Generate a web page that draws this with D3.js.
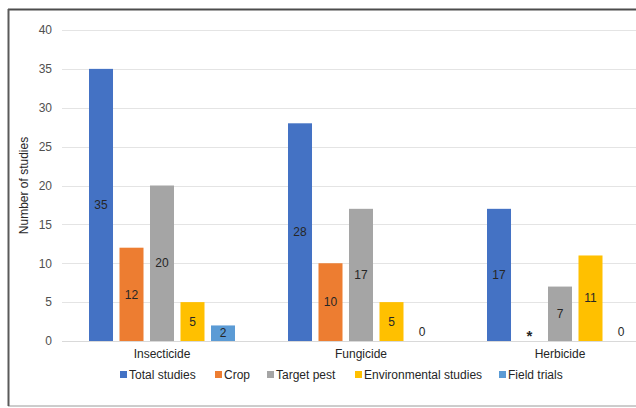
<!DOCTYPE html>
<html>
<head>
<meta charset="utf-8">
<script src="https://cdn.jsdelivr.net/npm/d3@7"></script>
<style>
  html, body { margin: 0; padding: 0; background: #fff; }
  svg { display: block; font-family: "Liberation Sans", Arial, sans-serif; }
</style>
</head>
<body>
<svg id="chart" width="636" height="408"></svg>
<script>
// Pesticide classes on the x axis
const categories = ["Insecticide", "Fungicide", "Herbicide"];
// Series shown for every class
const seriesNames = ["Total studies", "Crop", "Target pest", "Environmental studies", "Field trials"];
const seriesColors = ["#4472C4", "#ED7D31", "#A5A5A5", "#FFC000", "#5B9BD5"];
// Study counts per series, in category order
const totalStudies = [35, 28, 17];
const crop = [12, 10, 0];
const targetPest = [20, 17, 7];
const environmentalStudies = [5, 5, 11];
const fieldTrials = [2, 0, 0];
// Printed labels per series (the herbicide crop count is marked with an asterisk)
const cropLabels = ["12", "10", "*"];
const yTicks = [0, 5, 10, 15, 20, 25, 30, 35, 40];

const values = [totalStudies, crop, targetPest, environmentalStudies, fieldTrials];
const labels = [
  totalStudies.map(String),
  cropLabels,
  targetPest.map(String),
  environmentalStudies.map(String),
  fieldTrials.map(String)
];

const svg = d3.select("#chart");

// Frame
svg.append("rect")
  .attr("x", 8.5).attr("y", 9.5).attr("width", 640).attr("height", 396.5)
  .attr("fill", "none").attr("stroke", "#9a9a9a").attr("stroke-width", 1);
svg.append("line").attr("x1", 8).attr("x2", 640).attr("y1", 9.5).attr("y2", 9.5)
  .attr("stroke", "#4d4d4d").attr("stroke-width", 2);
svg.append("line").attr("x1", 8.5).attr("x2", 8.5).attr("y1", 9).attr("y2", 406)
  .attr("stroke", "#5a5a5a").attr("stroke-width", 2);

const y = d3.scaleLinear().domain([0, 40]).range([341, 30]);
const x0 = d3.scaleBand().domain(categories).range([62.5, 659.5]).padding(0);
const x1 = d3.scaleBand().domain(seriesNames).range([0, x0.bandwidth()])
  .paddingInner(0.213).paddingOuter(0.869);

// Gridlines
svg.append("g").selectAll("line").data(yTicks).join("line")
  .attr("x1", 62).attr("x2", 640)
  .attr("y1", d => Math.round(y(d)) + 0.5).attr("y2", d => Math.round(y(d)) + 0.5)
  .attr("stroke", d => d === 0 ? "#d9d9d9" : "#e4e4e4").attr("stroke-width", 1);

// Y axis tick labels
const yAxis = d3.axisLeft(y).tickValues(yTicks).tickSize(0).tickPadding(10);
svg.append("g").attr("transform", "translate(62,0)").call(yAxis)
  .call(g => g.select(".domain").remove())
  .call(g => g.selectAll("text").attr("font-size", 12).attr("fill", "#505050")
    .attr("font-family", "Liberation Sans, Arial, sans-serif"));

// Y axis title
svg.append("text")
  .attr("transform", `translate(28,${(y(0) + y(40)) / 2}) rotate(-90)`)
  .attr("text-anchor", "middle").attr("font-size", 12).attr("fill", "#262626")
  .text("Number of studies");

// Bars
const groups = svg.append("g").selectAll("g").data(categories).join("g")
  .attr("transform", d => `translate(${x0(d)},0)`);

groups.each(function(cat, ci) {
  const g = d3.select(this);
  seriesNames.forEach((s, si) => {
    const v = values[si][ci];
    const lbl = labels[si][ci];
    if (v > 0) {
      g.append("rect")
        .attr("x", x1(s)).attr("width", x1.bandwidth())
        .attr("y", y(v)).attr("height", y(0) - y(v))
        .attr("fill", seriesColors[si]);
    }
    const cy = v > 0 ? Math.min((y(v) + y(0)) / 2, y(0) - 6) : y(0) - 9;
    g.append("text")
      .attr("x", x1(s) + x1.bandwidth() / 2)
      .attr("y", lbl === "*" ? cy + 4 : cy)
      .attr("dy", "0.35em")
      .attr("text-anchor", "middle")
      .attr("font-size", lbl === "*" ? 15 : 12)
      .attr("font-weight", lbl === "*" ? "bold" : "normal")
      .attr("fill", "#262626")
      .text(lbl);
  });
});

// Category labels
const xAxis = d3.axisBottom(x0).tickSize(0).tickPadding(8);
svg.append("g").attr("transform", `translate(0,${y(0)})`).call(xAxis)
  .call(g => g.select(".domain").remove())
  .call(g => g.selectAll("text").attr("font-size", 12).attr("fill", "#262626")
    .attr("font-family", "Liberation Sans, Arial, sans-serif"));

// Legend
const legendX = [120, 215, 267, 355, 499];
const legend = svg.append("g").selectAll("g").data(seriesNames).join("g")
  .attr("transform", (d, i) => `translate(${legendX[i]},375)`);
legend.append("rect").attr("x", 0).attr("y", -4).attr("width", 7).attr("height", 7)
  .attr("fill", (d, i) => seriesColors[i]);
legend.append("text").attr("x", 9).attr("y", 0).attr("dy", "0.35em")
  .attr("font-size", 12).attr("fill", "#262626").text(d => d);
</script>
</body>
</html>
